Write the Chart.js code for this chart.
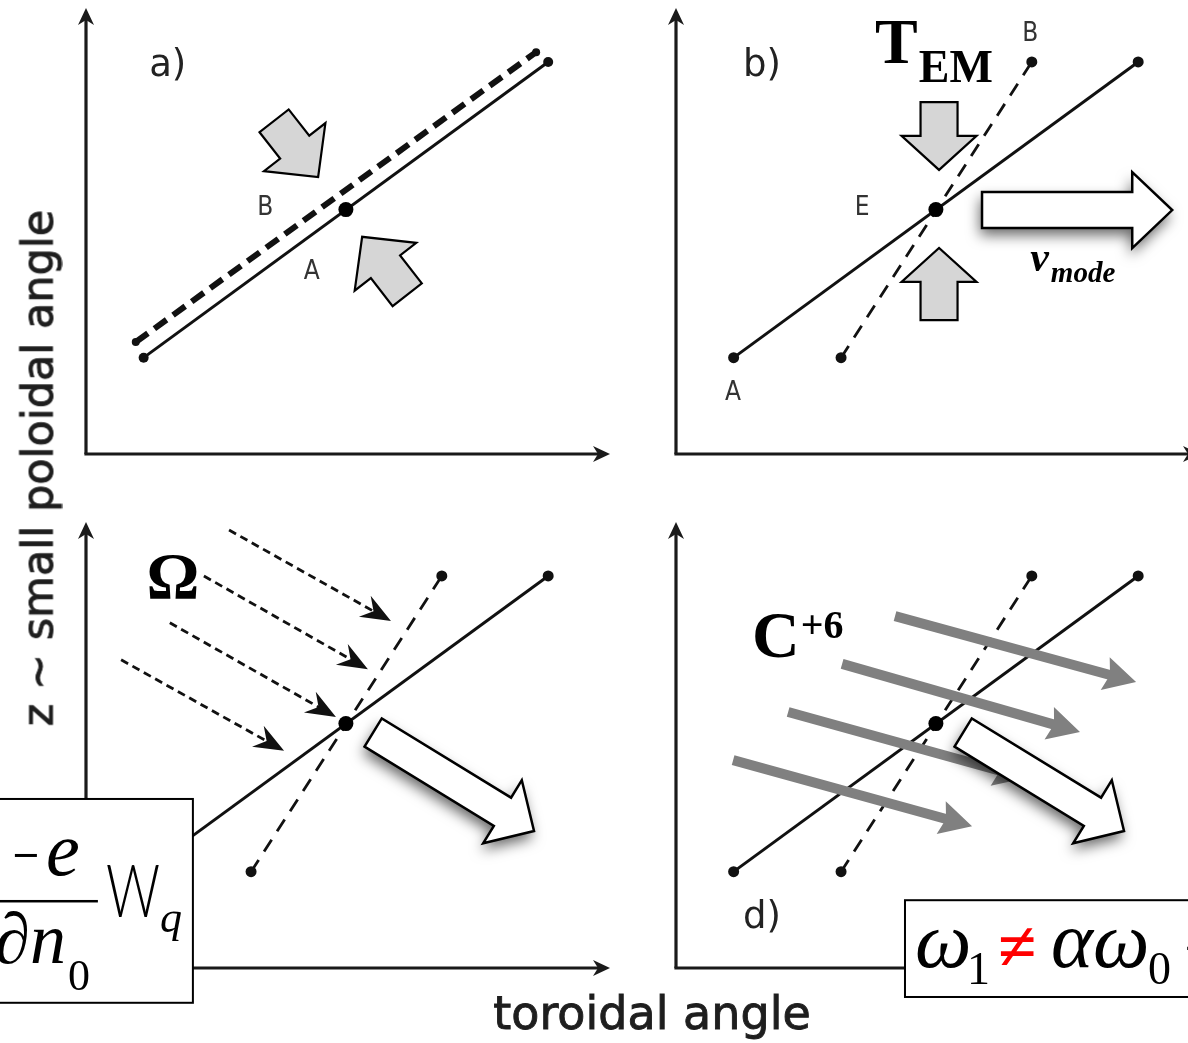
<!DOCTYPE html>
<html><head><meta charset="utf-8">
<script src="https://cdn.jsdelivr.net/npm/chart.js@4.4.1/dist/chart.umd.min.js"></script>
<style>
html,body{margin:0;padding:0;background:#fff;}
#fig{position:relative;width:1188px;height:1043px;overflow:hidden;background:#fff;}
#fig canvas{position:absolute;}
.ttl{position:absolute;font-family:"DejaVu Sans",sans-serif;color:#1e1e1e;white-space:nowrap;line-height:1;-webkit-text-stroke:0.9px #1e1e1e;}
#xt{left:652px;top:990px;font-size:46px;transform:translateX(-50%);}
#yt{left:38px;top:468px;font-size:43px;transform:translate(-50%,-50%) rotate(-90deg);}
</style></head><body>
<div id="fig">
<canvas id="pa" width="620" height="520" style="left:0px;top:0px"></canvas>
<canvas id="pb" width="620" height="520" style="left:590px;top:0px"></canvas>
<canvas id="pc" width="620" height="520" style="left:0px;top:514px"></canvas>
<canvas id="pd" width="620" height="520" style="left:590px;top:514px"></canvas>
<div class="ttl" id="xt">toroidal angle</div>
<div class="ttl" id="yt">z ~ small poloidal angle</div>
</div>
<script>
// ---------- data (panel units, both axes run 0..10) ----------
const axisMax = [10, 10];
const fieldLineX = [1.1, 8.82];
const fieldLineY = [2.16, 8.79];
const fixedPoint = [4.96, 5.48];
const displacedLineX = [0.95, 8.59];   // panel a (dashed)
const displacedLineY = [2.51, 9.01];
const tiltedLineX = [3.15, 6.79];      // panels b-d (dashed)
const tiltedLineY = [2.16, 8.79];
const pushFromA = [[3.59, 7.47], [6.13, 3.57]];
const pushToA   = [[4.43, 6.21], [5.27, 4.87]];
const pushFromB = [[5.02, 7.89], [5.02, 3.00]];
const pushToB   = [[5.02, 6.37], [5.02, 4.62]];
const modeArrowB  = [[5.84, 5.47], [9.47, 5.47]];
const modeArrowCD = [[5.48, 5.28], [8.55, 3.07]];
const omegaFrom = [[2.73, 9.82], [2.25, 8.79], [1.60, 7.74], [0.67, 6.91]];
const omegaTo   = [[5.82, 7.78], [5.38, 6.70], [4.77, 5.63], [3.78, 4.87]];
const carbonFrom = [[4.18, 7.89], [3.17, 6.82], [2.14, 5.74], [1.09, 4.66]];
const carbonTo   = [[8.78, 6.41], [7.71, 5.29], [6.68, 4.26], [5.65, 3.18]];
const panelLetters = ['a)', 'b)', '', 'd)'];
const panelLetterAt = [[1.56, 8.70], [1.64, 8.70], null, [1.64, 1.12]];
const pointNamesA = ['B', 'A'];
const pointNamesAAt = [[3.42, 5.52], [4.31, 4.08]];
const pointNamesB = ['B', 'A', 'E'];
const pointNamesBAt = [[6.76, 9.42], [1.09, 1.37], [3.55, 5.52]];
const symbolAt = {TEM: [3.80, 8.77], vmode: [6.76, 4.10], Omega: [1.66, 8.30], C6: [1.45, 6.97]};
const boxC = {x: [-1.9, 2.04], y: [-0.78, 3.79]};
const boxD = {x: [4.37, 11.5], y: [-0.65, 1.52]};

// ---------- helpers ----------
const SERIF = '"Liberation Serif","Times New Roman",serif';
const SANS = '"DejaVu Sans",sans-serif';
const NARROW = '"Liberation Sans Narrow","DejaVu Sans Condensed",sans-serif';
const pts = (xs, ys) => xs.map((x, i) => ({x: x, y: ys[i]}));
function toPx(chart, p) { return [chart.scales.x.getPixelForValue(p[0]), chart.scales.y.getPixelForValue(p[1])]; }
function txt(ctx, s, x, y, font, color, align, base, fitW) {
  ctx.save(); ctx.font = font; ctx.fillStyle = color || '#111';
  ctx.textAlign = align || 'left'; ctx.textBaseline = base || 'alphabetic';
  let w = ctx.measureText(s).width;
  if (fitW) { ctx.translate(x, y); ctx.scale(fitW / w, 1); ctx.fillText(s, 0, 0); w = fitW; }
  else ctx.fillText(s, x, y);
  ctx.restore(); return w;
}
function unit(P, Q) { const dx = Q[0]-P[0], dy = Q[1]-P[1], L = Math.hypot(dx, dy); return [dx/L, dy/L, L]; }
function stealthHead(ctx, Q, u, hl, hw, notch, color) {
  const nx = -u[1], ny = u[0];
  const bx = Q[0]-u[0]*hl, by = Q[1]-u[1]*hl;
  ctx.beginPath();
  ctx.moveTo(Q[0], Q[1]);
  ctx.lineTo(bx+nx*hw/2, by+ny*hw/2);
  ctx.lineTo(Q[0]-u[0]*(hl-notch), Q[1]-u[1]*(hl-notch));
  ctx.lineTo(bx-nx*hw/2, by-ny*hw/2);
  ctx.closePath(); ctx.fillStyle = color; ctx.fill();
}
function lineArrow(ctx, P, Q, color, lw, dash, hl, hw, notch) {
  const u = unit(P, Q);
  ctx.save();
  ctx.strokeStyle = color; ctx.lineWidth = lw; ctx.setLineDash(dash); ctx.lineCap = 'butt';
  ctx.beginPath(); ctx.moveTo(P[0], P[1]);
  ctx.lineTo(Q[0]-u[0]*(hl-notch-1), Q[1]-u[1]*(hl-notch-1)); ctx.stroke();
  ctx.setLineDash([]);
  stealthHead(ctx, Q, u, hl, hw, notch, color);
  ctx.restore();
}
function blockArrow(ctx, P, Q, sw, hw, hl, fill, lw, shadow) {
  const u = unit(P, Q), nx = -u[1], ny = u[0];
  const bx = Q[0]-u[0]*hl, by = Q[1]-u[1]*hl;
  const p = [[P[0]+nx*sw/2, P[1]+ny*sw/2], [bx+nx*sw/2, by+ny*sw/2], [bx+nx*hw/2, by+ny*hw/2], Q,
             [bx-nx*hw/2, by-ny*hw/2], [bx-nx*sw/2, by-ny*sw/2], [P[0]-nx*sw/2, P[1]-ny*sw/2]];
  ctx.save(); ctx.beginPath();
  p.forEach((q, i) => i ? ctx.lineTo(q[0], q[1]) : ctx.moveTo(q[0], q[1]));
  ctx.closePath();
  if (shadow) { ctx.shadowColor = 'rgba(0,0,0,0.6)'; ctx.shadowBlur = 14; ctx.shadowOffsetX = -2; ctx.shadowOffsetY = 7; }
  ctx.fillStyle = fill; ctx.fill();
  ctx.shadowColor = 'rgba(0,0,0,0)';
  ctx.lineJoin = 'miter'; ctx.lineWidth = lw; ctx.strokeStyle = '#000'; ctx.stroke();
  ctx.restore();
}
function drawAxes(chart) {
  const ctx = chart.ctx;
  const O = toPx(chart, [0, 0]), X = toPx(chart, [axisMax[0], 0]), Y = toPx(chart, [0, axisMax[1]]);
  ctx.save();
  ctx.strokeStyle = '#1a1a1a'; ctx.lineWidth = 3.2; ctx.lineCap = 'butt';
  ctx.beginPath(); ctx.moveTo(O[0]-1.6, O[1]); ctx.lineTo(X[0]-8, X[1]); ctx.stroke();
  ctx.beginPath(); ctx.moveTo(O[0], O[1]); ctx.lineTo(Y[0], Y[1]+8); ctx.stroke();
  stealthHead(ctx, X, [1, 0], 17, 16, 5, '#1a1a1a');
  stealthHead(ctx, Y, [0, -1], 17, 16, 5, '#1a1a1a');
  ctx.restore();
}
function lineDs(xs, ys, width, dash, r, order) {
  return {data: pts(xs, ys), showLine: true, fill: false, tension: 0, borderColor: '#111', borderWidth: width,
    borderDash: dash, borderCapStyle: 'butt', pointRadius: r, pointHoverRadius: r, pointBackgroundColor: '#111',
    pointBorderColor: '#111', pointBorderWidth: 0, order: order};
}
function dotDs(p, r) {
  return {data: [{x: p[0], y: p[1]}], showLine: false, pointRadius: r, pointHoverRadius: r,
    pointBackgroundColor: '#000', pointBorderColor: '#000', pointBorderWidth: 0, order: 0};
}
function makePanel(id, datasets, deco) {
  return new Chart(document.getElementById(id), {
    type: 'scatter',
    data: {datasets: datasets},
    options: {
      responsive: false, animation: false, events: [], devicePixelRatio: 1,
      layout: {padding: {left: 86, top: 8, right: 10, bottom: 66}},
      scales: {
        x: {type: 'linear', min: 0, max: axisMax[0], display: false},
        y: {type: 'linear', min: 0, max: axisMax[1], display: false}
      },
      plugins: {legend: {display: false}, tooltip: {enabled: false}}
    },
    plugins: [{id: 'deco_' + id,
      beforeDatasetsDraw(chart) { drawAxes(chart); },
      afterDatasetsDraw(chart) { deco(chart, chart.ctx); }}]
  });
}
function panelLetter(chart, ctx, i) {
  if (!panelLetterAt[i]) return;
  const p = toPx(chart, panelLetterAt[i]);
  txt(ctx, panelLetters[i], p[0], p[1], '37px ' + SANS, '#222', 'center', 'middle');
}
function names(chart, ctx, list, at) {
  list.forEach((s, i) => { const p = toPx(chart, at[i]); txt(ctx, s, p[0], p[1], '26px ' + NARROW, '#333', 'center', 'middle'); });
}

// ---------- panel a ----------
makePanel('pa', [
  dotDs(fixedPoint, 7.5),
  lineDs(fieldLineX, fieldLineY, 3, [], 5, 1),
  lineDs(displacedLineX, displacedLineY, 6, [15, 8], 4, 2)
], (chart, ctx) => {
  pushFromA.forEach((f, i) => blockArrow(ctx, toPx(chart, f), toPx(chart, pushToA[i]), 37, 78, 38, '#d6d6d6', 2.2, false));
  panelLetter(chart, ctx, 0);
  names(chart, ctx, pointNamesA, pointNamesAAt);
});

// ---------- panel b ----------
makePanel('pb', [
  dotDs(fixedPoint, 7.5),
  lineDs(fieldLineX, fieldLineY, 3, [], 5.5, 1),
  lineDs(tiltedLineX, tiltedLineY, 2.8, [14, 10], 5.5, 2)
], (chart, ctx) => {
  pushFromB.forEach((f, i) => blockArrow(ctx, toPx(chart, f), toPx(chart, pushToB[i]), 37, 75, 34, '#d6d6d6', 2.2, false));
  blockArrow(ctx, toPx(chart, modeArrowB[0]), toPx(chart, modeArrowB[1]), 36, 76, 40, '#fff', 2.5, true);
  panelLetter(chart, ctx, 1);
  names(chart, ctx, pointNamesB, pointNamesBAt);
  const t = toPx(chart, symbolAt.TEM);
  const wT = txt(ctx, 'T', t[0], t[1], 'bold 64px ' + SERIF, '#000');
  txt(ctx, 'EM', t[0] + wT + 1, t[1] + 19, 'bold 46px ' + SERIF, '#000');
  const v = toPx(chart, symbolAt.vmode);
  const wv = txt(ctx, 'v', v[0], v[1], 'italic bold 42px ' + SERIF, '#000');
  txt(ctx, 'mode', v[0] + wv + 2, v[1] + 11, 'italic bold 29px ' + SERIF, '#000');
});

// ---------- panel c ----------
makePanel('pc', [
  dotDs(fixedPoint, 7.5),
  lineDs(fieldLineX, fieldLineY, 3, [], 5.5, 1),
  lineDs(tiltedLineX, tiltedLineY, 2.8, [14, 10], 5.5, 2)
], (chart, ctx) => {
  omegaFrom.forEach((f, i) => lineArrow(ctx, toPx(chart, f), toPx(chart, omegaTo[i]), '#111', 2.8, [8, 5], 30, 24, 10));
  blockArrow(ctx, toPx(chart, modeArrowCD[0]), toPx(chart, modeArrowCD[1]), 33, 74, 37, '#fff', 2.5, true);
  const o = toPx(chart, symbolAt.Omega);
  txt(ctx, 'Ω', o[0], o[1], 'bold 66px ' + SERIF, '#000', 'center');
  // formula box
  const a = toPx(chart, [boxC.x[0], boxC.y[1]]), b = toPx(chart, [boxC.x[1], boxC.y[0]]);
  const R = b[0], T = a[1];
  ctx.save();
  ctx.fillStyle = '#fff'; ctx.fillRect(a[0], a[1], b[0]-a[0], b[1]-a[1]);
  ctx.strokeStyle = '#000'; ctx.lineWidth = 2; ctx.strokeRect(a[0], a[1], b[0]-a[0], b[1]-a[1]);
  ctx.restore();
  ctx.save(); ctx.fillStyle = '#000'; ctx.fillRect(R - 178, T + 55, 22, 3); ctx.restore();
  txt(ctx, 'e', R - 147, T + 76, 'italic 76px ' + SERIF, '#000');
  ctx.save(); ctx.fillStyle = '#000'; ctx.fillRect(R - 210, T + 101, 115, 2.5); ctx.restore();
  txt(ctx, 'W', R - 87, T + 118, '300 72px Lato,' + SANS, '#000', 'left', 'alphabetic', 54);
  txt(ctx, 'q', R - 33, T + 133, 'italic 44px ' + SERIF, '#000');
  txt(ctx, '\u2202n', R - 127, T + 164, 'italic 72px ' + SERIF, '#000', 'right');
  txt(ctx, '0', R - 125, T + 191, '44px ' + SERIF, '#000');
});

// ---------- panel d ----------
makePanel('pd', [
  dotDs(fixedPoint, 7.5),
  lineDs(fieldLineX, fieldLineY, 3, [], 5.5, 1),
  lineDs(tiltedLineX, tiltedLineY, 2.8, [14, 10], 5.5, 2)
], (chart, ctx) => {
  carbonFrom.forEach((f, i) => lineArrow(ctx, toPx(chart, f), toPx(chart, carbonTo[i]), '#808080', 10, [], 32, 34, 5));
  blockArrow(ctx, toPx(chart, modeArrowCD[0]), toPx(chart, modeArrowCD[1]), 33, 74, 37, '#fff', 2.5, true);
  panelLetter(chart, ctx, 3);
  const c = toPx(chart, symbolAt.C6);
  const wC = txt(ctx, 'C', c[0], c[1], 'bold 66px ' + SERIF, '#000');
  txt(ctx, '+6', c[0] + wC + 1, c[1] - 19, 'bold 40px ' + SERIF, '#000');
  // formula box
  const a = toPx(chart, [boxD.x[0], boxD.y[1]]), b = toPx(chart, [boxD.x[1], boxD.y[0]]);
  const L = a[0], T = a[1];
  ctx.save();
  ctx.fillStyle = '#fff'; ctx.fillRect(a[0], a[1], b[0]-a[0], b[1]-a[1]);
  ctx.strokeStyle = '#000'; ctx.lineWidth = 2; ctx.strokeRect(a[0], a[1], b[0]-a[0], b[1]-a[1]);
  ctx.restore();
  txt(ctx, '\u03C9', L + 10, T + 67, 'italic 80px ' + SERIF, '#000');
  txt(ctx, '1', L + 62, T + 84, '46px ' + SERIF, '#000');
  txt(ctx, '\u2260', L + 93, T + 70, 'bold 70px ' + SERIF, '#ff0000');
  txt(ctx, '\u03B1\u03C9', L + 146, T + 67, 'italic 80px ' + SERIF, '#000');
  txt(ctx, '0', L + 243, T + 84, '46px ' + SERIF, '#000');
  txt(ctx, '+', L + 279, T + 70, '64px ' + SERIF, '#000');
});
</script>
</body></html>
